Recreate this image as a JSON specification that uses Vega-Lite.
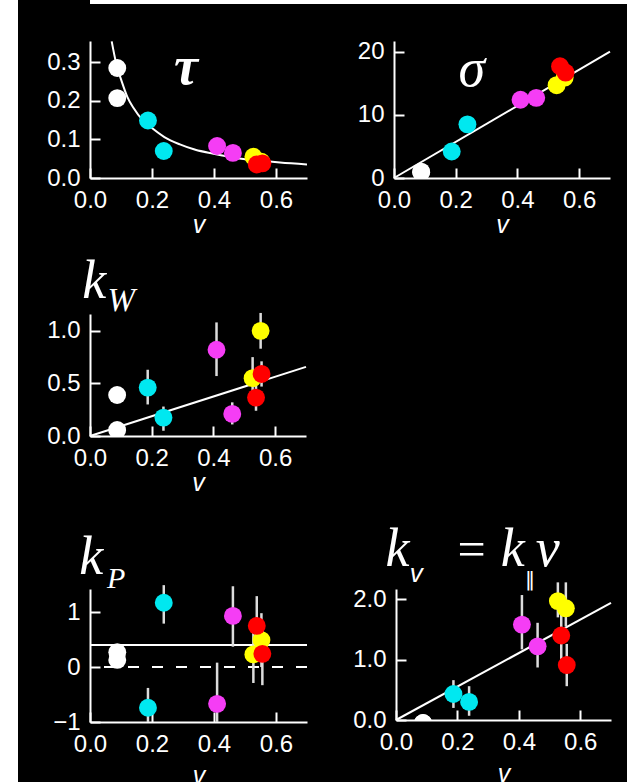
{
  "$schema": "https://vega.github.io/schema/vega-lite/v6.json",
  "background": "black",
  "padding": 0,
  "autosize": {"type": "pad"},
  "config": {
    "view": {"stroke": null},
    "axis": {"domainColor": "white", "domainWidth": 2, "tickColor": "white", "tickWidth": 2, "tickSize": -10, "labelColor": "white", "labelFont": "Liberation Sans", "labelFontSize": 24, "labelPadding": 20, "titleColor": "white", "titleFont": "Liberation Sans", "titleFontSize": 25, "titleFontStyle": "italic", "titleFontWeight": "normal", "grid": false, "labelFlush": false, "labelOverlap": false},
    "axisX": {"titlePadding": 0}
  },
  "datasets": {
    "pts": [
      {"grp": "w", "v": 0.088, "tau": 0.285, "sigma": 1.0, "kW": 0.39, "kWlo": 0.39, "kWhi": 0.39, "kP": 0.27, "kPlo": 0.27, "kPhi": 0.27, "kv": -0.05, "kvlo": -0.05, "kvhi": -0.05},
      {"grp": "w", "v": 0.088, "tau": 0.207, "sigma": 0.9, "kW": 0.057, "kWlo": 0.057, "kWhi": 0.057, "kP": 0.13, "kPlo": 0.13, "kPhi": 0.13, "kv": -0.05, "kvlo": -0.05, "kvhi": -0.05},
      {"grp": "c", "v": 0.187, "tau": 0.149, "sigma": 4.2, "kW": 0.46, "kWlo": 0.30, "kWhi": 0.63, "kP": -0.74, "kPlo": -1.0, "kPhi": -0.38, "kv": 0.43, "kvlo": 0.20, "kvhi": 0.66},
      {"grp": "c", "v": 0.238, "tau": 0.070, "sigma": 8.5, "kW": 0.175, "kWlo": 0.05, "kWhi": 0.28, "kP": 1.17, "kPlo": 0.79, "kPhi": 1.49, "kv": 0.30, "kvlo": 0.07, "kvhi": 0.56},
      {"grp": "m", "v": 0.41, "tau": 0.083, "sigma": 12.4, "kW": 0.82, "kWlo": 0.57, "kWhi": 1.08, "kP": -0.67, "kPlo": -1.0, "kPhi": 0.08, "kv": 1.58, "kvlo": 1.17, "kvhi": 2.07},
      {"grp": "m", "v": 0.461, "tau": 0.065, "sigma": 12.7, "kW": 0.21, "kWlo": 0.11, "kWhi": 0.32, "kP": 0.93, "kPlo": 0.37, "kPhi": 1.47, "kv": 1.22, "kvlo": 0.87, "kvhi": 1.61},
      {"grp": "y", "v": 0.527, "tau": 0.055, "sigma": 14.7, "kW": 0.55, "kWlo": 0.36, "kWhi": 0.75, "kP": 0.23, "kPlo": -0.29, "kPhi": 0.73, "kv": 1.97, "kvlo": 1.70, "kvhi": 2.28},
      {"grp": "y", "v": 0.553, "tau": 0.042, "sigma": 15.9, "kW": 1.0, "kWlo": 0.83, "kWhi": 1.17, "kP": 0.49, "kPlo": 0.0, "kPhi": 0.98, "kv": 1.85, "kvlo": 1.55, "kvhi": 2.28},
      {"grp": "r", "v": 0.538, "tau": 0.035, "sigma": 17.7, "kW": 0.365, "kWlo": 0.24, "kWhi": 0.49, "kP": 0.75, "kPlo": 0.2, "kPhi": 1.29, "kv": 1.40, "kvlo": 1.0, "kvhi": 1.8},
      {"grp": "r", "v": 0.556, "tau": 0.038, "sigma": 16.7, "kW": 0.59, "kWlo": 0.47, "kWhi": 0.71, "kP": 0.24, "kPlo": -0.33, "kPhi": 0.8, "kv": 0.91, "kvlo": 0.56, "kvhi": 1.26}
    ],
    "tauCurve": [
      {"v": 0.07, "tau": 0.354}, {"v": 0.085, "tau": 0.295}, {"v": 0.102, "tau": 0.251}, {"v": 0.12, "tau": 0.211}, {"v": 0.14, "tau": 0.182}, {"v": 0.17, "tau": 0.150}, {"v": 0.199, "tau": 0.130}, {"v": 0.24, "tau": 0.106}, {"v": 0.29, "tau": 0.087}, {"v": 0.34, "tau": 0.073}, {"v": 0.398, "tau": 0.063}, {"v": 0.45, "tau": 0.055}, {"v": 0.505, "tau": 0.048}, {"v": 0.56, "tau": 0.044}, {"v": 0.613, "tau": 0.040}, {"v": 0.7, "tau": 0.035}
    ],
    "sigmaLine": [{"v": 0, "sigma": 0}, {"v": 0.7, "sigma": 20}],
    "kwLine": [{"v": 0, "kW": 0}, {"v": 0.7, "kW": 0.657}],
    "kvLine": [{"v": 0, "kv": 0}, {"v": 0.7, "kv": 1.94}]
  },
  "spacing": 0,
  "hconcat": [
    {
      "width": 18, "height": 782,
      "view": {"fill": "white", "stroke": null},
      "data": {"values": [{}]},
      "mark": {"type": "text", "text": "", "fontSize": 0.5}
    },
    {
      "spacing": 35,
      "vconcat": [
        {
          "width": 537, "height": 4,
          "view": {"fill": "white", "stroke": null},
          "data": {"values": [{}]},
          "mark": {"type": "text", "text": "", "fontSize": 0.5}
        },
        {
          "spacing": 28,
          "vconcat": [
            {
              "spacing": 18,
              "vconcat": [
                {
                  "spacing": 42,
                  "hconcat": [
                    {
                      "width": 217, "height": 137,
                      "layer": [
                        {
                          "data": {"name": "tauCurve"},
                          "mark": {"type": "line", "color": "white", "strokeWidth": 2, "clip": true, "interpolate": "monotone"},
                          "encoding": {
                            "x": {"field": "v", "type": "quantitative", "scale": {"domain": [0, 0.7], "nice": false}, "axis": {"values": [0, 0.2, 0.4, 0.6], "format": ".1f", "title": "v"}},
                            "y": {"field": "tau", "type": "quantitative", "title": null, "scale": {"domain": [0, 0.355], "nice": false}, "axis": {"values": [0, 0.1, 0.2, 0.3], "format": ".1f", "minExtent": 72}}
                          }
                        },
                        {
                          "data": {"name": "pts"},
                          "mark": {"type": "circle", "size": 320, "opacity": 1, "clip": true},
                          "encoding": {
                            "x": {"field": "v", "type": "quantitative"},
                            "y": {"field": "tau", "type": "quantitative", "title": null},
                            "color": {"field": "grp", "type": "nominal", "scale": {"domain": ["w", "c", "m", "y", "r"], "range": ["#ffffff", "#00e8f0", "#f53df5", "#ffff00", "#ff0000"]}, "legend": null}
                          }
                        },
                        {
                          "data": {"values": [{}]},
                          "mark": {"type": "text", "text": "τ", "font": "Liberation Serif", "fontStyle": "italic", "fontWeight": "bold", "fontSize": 54, "color": "white", "align": "center", "baseline": "alphabetic"},
                          "encoding": {"x": {"datum": 0.31}, "y": {"datum": 0.243}}
                        }
                      ]
                    },
                    {
                      "width": 216, "height": 137,
                      "layer": [
                        {
                          "data": {"name": "sigmaLine"},
                          "mark": {"type": "line", "color": "white", "strokeWidth": 2},
                          "encoding": {
                            "x": {"field": "v", "type": "quantitative", "scale": {"domain": [0, 0.7], "nice": false}, "axis": {"values": [0, 0.2, 0.4, 0.6], "format": ".1f", "title": "v"}},
                            "y": {"field": "sigma", "type": "quantitative", "title": null, "scale": {"domain": [0, 21.7], "nice": false}, "axis": {"values": [0, 5, 10, 15, 20], "format": "d", "minExtent": 45}}
                          }
                        },
                        {
                          "data": {"name": "pts"},
                          "mark": {"type": "circle", "size": 320, "opacity": 1, "clip": true},
                          "encoding": {
                            "x": {"field": "v", "type": "quantitative"},
                            "y": {"field": "sigma", "type": "quantitative", "title": null},
                            "color": {"field": "grp", "type": "nominal", "scale": {"domain": ["w", "c", "m", "y", "r"], "range": ["#ffffff", "#00e8f0", "#f53df5", "#ffff00", "#ff0000"]}, "legend": null}
                          }
                        },
                        {
                          "data": {"values": [{}]},
                          "mark": {"type": "text", "text": "σ", "font": "Liberation Serif", "fontStyle": "italic", "fontSize": 54, "color": "white", "align": "center", "baseline": "alphabetic"},
                          "encoding": {"x": {"datum": 0.252}, "y": {"datum": 14.5}}
                        }
                      ]
                    }
                  ]
                },
                {
                  "width": 216, "height": 122,
                  "layer": [
                    {
                      "data": {"name": "kwLine"},
                      "mark": {"type": "line", "color": "white", "strokeWidth": 2},
                      "encoding": {
                        "x": {"field": "v", "type": "quantitative", "scale": {"domain": [0, 0.7], "nice": false}, "axis": {"values": [0, 0.2, 0.4, 0.6], "format": ".1f", "title": "v"}},
                        "y": {"field": "kW", "type": "quantitative", "title": null, "scale": {"domain": [0, 1.16], "nice": false}, "axis": {"values": [0, 0.5, 1.0], "format": ".1f", "minExtent": 71}}
                      }
                    },
                    {
                      "data": {"name": "pts"},
                      "mark": {"type": "rule", "color": "#dcdcdc", "strokeWidth": 2.5},
                      "encoding": {
                        "x": {"field": "v", "type": "quantitative"},
                        "y": {"field": "kWlo", "type": "quantitative", "title": null},
                        "y2": {"field": "kWhi"}
                      }
                    },
                    {
                      "data": {"name": "pts"},
                      "mark": {"type": "circle", "size": 320, "opacity": 1, "clip": true},
                      "encoding": {
                        "x": {"field": "v", "type": "quantitative"},
                        "y": {"field": "kW", "type": "quantitative", "title": null},
                        "color": {"field": "grp", "type": "nominal", "scale": {"domain": ["w", "c", "m", "y", "r"], "range": ["#ffffff", "#00e8f0", "#f53df5", "#ffff00", "#ff0000"]}, "legend": null}
                      }
                    },
                    {
                      "data": {"values": [{}]},
                      "mark": {"type": "text", "text": "k", "font": "Liberation Serif", "fontStyle": "italic", "fontSize": 54, "color": "white", "align": "left", "baseline": "alphabetic"},
                      "encoding": {"x": {"datum": -0.025}, "y": {"datum": 1.31}}
                    },
                    {
                      "data": {"values": [{}]},
                      "mark": {"type": "text", "text": "W", "font": "Liberation Serif", "fontStyle": "italic", "fontSize": 33, "color": "white", "align": "left", "baseline": "alphabetic"},
                      "encoding": {"x": {"datum": 0.057}, "y": {"datum": 1.19}}
                    }
                  ]
                }
              ]
            },
            {
              "spacing": 43,
              "hconcat": [
                {
                  "width": 217, "height": 133,
                  "layer": [
                    {
                      "data": {"values": [{}]},
                      "mark": {"type": "rule", "color": "white", "strokeWidth": 2, "strokeDash": [11, 13]},
                      "encoding": {"y": {"datum": 0, "type": "quantitative", "scale": {"domain": [-1, 1.42], "nice": false}, "axis": {"values": [-1, 0, 1], "format": "d", "minExtent": 67}, "title": null}}
                    },
                    {
                      "data": {"values": [{}]},
                      "mark": {"type": "rule", "color": "white", "strokeWidth": 2},
                      "encoding": {"y": {"datum": 0.40, "type": "quantitative", "title": null}}
                    },
                    {
                      "data": {"name": "pts"},
                      "mark": {"type": "rule", "color": "#dcdcdc", "strokeWidth": 2.5},
                      "encoding": {
                        "x": {"field": "v", "type": "quantitative", "scale": {"domain": [0, 0.7], "nice": false}, "axis": {"values": [0, 0.2, 0.4, 0.6], "format": ".1f", "title": "v", "titlePadding": 7}},
                        "y": {"field": "kPlo", "type": "quantitative", "title": null},
                        "y2": {"field": "kPhi"}
                      }
                    },
                    {
                      "data": {"name": "pts"},
                      "mark": {"type": "circle", "size": 320, "opacity": 1, "clip": true},
                      "encoding": {
                        "x": {"field": "v", "type": "quantitative"},
                        "y": {"field": "kP", "type": "quantitative", "title": null},
                        "color": {"field": "grp", "type": "nominal", "scale": {"domain": ["w", "c", "m", "y", "r"], "range": ["#ffffff", "#00e8f0", "#f53df5", "#ffff00", "#ff0000"]}, "legend": null}
                      }
                    },
                    {
                      "data": {"values": [{}]},
                      "mark": {"type": "text", "text": "k", "font": "Liberation Serif", "fontStyle": "italic", "fontSize": 54, "color": "white", "align": "left", "baseline": "alphabetic"},
                      "encoding": {"x": {"datum": -0.035}, "y": {"datum": 1.69}}
                    },
                    {
                      "data": {"values": [{}]},
                      "mark": {"type": "text", "text": "P", "font": "Liberation Serif", "fontStyle": "italic", "fontSize": 30, "color": "white", "align": "left", "baseline": "alphabetic"},
                      "encoding": {"x": {"datum": 0.055}, "y": {"datum": 1.44}}
                    }
                  ]
                },
                {
                  "width": 215, "height": 131,
                  "layer": [
                    {
                      "data": {"name": "kvLine"},
                      "mark": {"type": "line", "color": "white", "strokeWidth": 2},
                      "encoding": {
                        "x": {"field": "v", "type": "quantitative", "scale": {"domain": [0, 0.7], "nice": false}, "axis": {"values": [0, 0.2, 0.4, 0.6], "format": ".1f", "title": "v", "titlePadding": 7}},
                        "y": {"field": "kv", "type": "quantitative", "title": null, "scale": {"domain": [0, 2.17], "nice": false}, "axis": {"values": [0, 0.5, 1.0, 1.5, 2.0], "format": ".1f", "minExtent": 45}}
                      }
                    },
                    {
                      "data": {"name": "pts"},
                      "mark": {"type": "rule", "color": "#dcdcdc", "strokeWidth": 2.5},
                      "encoding": {
                        "x": {"field": "v", "type": "quantitative"},
                        "y": {"field": "kvlo", "type": "quantitative", "title": null},
                        "y2": {"field": "kvhi"}
                      }
                    },
                    {
                      "data": {"name": "pts"},
                      "mark": {"type": "circle", "size": 320, "opacity": 1, "clip": true},
                      "encoding": {
                        "x": {"field": "v", "type": "quantitative"},
                        "y": {"field": "kv", "type": "quantitative", "title": null},
                        "color": {"field": "grp", "type": "nominal", "scale": {"domain": ["w", "c", "m", "y", "r"], "range": ["#ffffff", "#00e8f0", "#f53df5", "#ffff00", "#ff0000"]}, "legend": null}
                      }
                    },
                    {
                      "data": {"values": [{}]},
                      "mark": {"type": "text", "text": "k", "font": "Liberation Serif", "fontStyle": "italic", "fontSize": 54, "color": "white", "align": "left", "baseline": "alphabetic"},
                      "encoding": {"x": {"datum": -0.034}, "y": {"datum": 2.55}}
                    },
                    {
                      "data": {"values": [{}]},
                      "mark": {"type": "text", "text": "v", "font": "Liberation Sans", "fontStyle": "italic", "fontSize": 26, "color": "white", "align": "left", "baseline": "alphabetic"},
                      "encoding": {"x": {"datum": 0.045}, "y": {"datum": 2.28}}
                    },
                    {
                      "data": {"values": [{}]},
                      "mark": {"type": "text", "text": "=", "font": "Liberation Serif", "fontSize": 50, "color": "white", "align": "left", "baseline": "alphabetic"},
                      "encoding": {"x": {"datum": 0.2}, "y": {"datum": 2.55}}
                    },
                    {
                      "data": {"values": [{}]},
                      "mark": {"type": "text", "text": "k", "font": "Liberation Serif", "fontStyle": "italic", "fontSize": 54, "color": "white", "align": "left", "baseline": "alphabetic"},
                      "encoding": {"x": {"datum": 0.341}, "y": {"datum": 2.55}}
                    },
                    {
                      "data": {"values": [{}]},
                      "mark": {"type": "text", "text": "‖", "font": "DejaVu Sans", "fontSize": 20, "color": "white", "align": "left", "baseline": "alphabetic"},
                      "encoding": {"x": {"datum": 0.42}, "y": {"datum": 2.22}}
                    },
                    {
                      "data": {"values": [{}]},
                      "mark": {"type": "text", "text": "v", "font": "Liberation Serif", "fontStyle": "italic", "fontSize": 54, "color": "white", "align": "left", "baseline": "alphabetic"},
                      "encoding": {"x": {"datum": 0.455}, "y": {"datum": 2.55}}
                    }
                  ]
                }
              ]
            }
          ]
        }
      ]
    }
  ]
}
